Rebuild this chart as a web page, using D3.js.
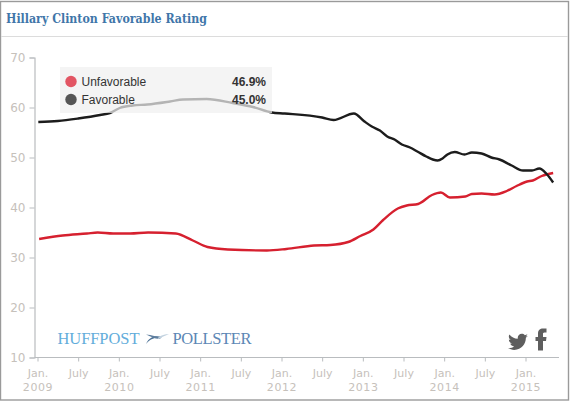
<!DOCTYPE html>
<html><head><meta charset="utf-8">
<script src="https://cdn.jsdelivr.net/npm/d3@7"></script>
<style>
html,body{margin:0;padding:0;background:#fff;overflow:hidden}
svg{display:block}
text{font-family:"DejaVu Sans",sans-serif}
</style></head><body><svg id="c" width="570" height="402"></svg>
<script>
const chartTitle = "Hillary Clinton Favorable Rating";
const favYears = [2009.01,2009.25,2009.5,2009.77,2009.89,2010.01,2010.17,2010.35,2010.63,2010.79,2011.08,2011.4,2011.65,2011.88,2012.04,2012.5,2012.64,2012.89,2013.02,2013.11,2013.21,2013.3,2013.39,2013.48,2013.58,2013.67,2013.78,2013.86,2013.92,2013.98,2014.04,2014.13,2014.25,2014.34,2014.46,2014.58,2014.68,2014.83,2014.97,2015.08,2015.17,2015.26,2015.34];
const favValues = [57.1,57.3,57.8,58.5,58.9,59.9,60.4,60.6,61.2,61.6,61.7,60.9,60.1,59.0,58.8,58.0,57.5,58.8,57.2,56.2,55.4,54.2,53.6,52.6,52.0,51.2,50.2,49.6,49.4,49.8,50.6,51.1,50.6,51.0,50.8,50.0,49.6,48.4,47.4,47.4,47.8,46.7,45.0];
const unfavYears = [2009.02,2009.31,2009.61,2009.74,2009.93,2010.14,2010.36,2010.7,2010.91,2011.09,2011.34,2011.82,2012.06,2012.4,2012.6,2012.82,2012.97,2013.13,2013.25,2013.43,2013.54,2013.68,2013.85,2013.96,2014.07,2014.26,2014.34,2014.46,2014.62,2014.77,2014.89,2015.02,2015.09,2015.2,2015.34];
const unfavValues = [33.7,34.4,34.8,35.0,34.8,34.8,35.0,34.8,33.4,32.1,31.6,31.4,31.7,32.4,32.5,33.1,34.3,35.6,37.5,39.8,40.4,40.7,42.5,43.0,42.0,42.2,42.7,42.8,42.6,43.3,44.3,45.2,45.4,46.3,46.9];
const legendNames = ["Unfavorable","Favorable"];
const legendValues = ["46.9%","45.0%"];
const legendColors = ["#e25563","#555555"];
const yTicks = [10,20,30,40,50,60,70];
const xTickYears = [2009,2009.5,2010,2010.5,2011,2011.5,2012,2012.5,2013,2013.5,2014,2014.5,2015];

const svg = d3.select("#c");
const x = d3.scaleLinear().domain([2009,2015]).range([37.5,525.5]);
const y = d3.scaleLinear().domain([10,70]).range([357.5,57.5]);
const axisCol = "#b9bcbf", labelCol = "#c6c1bb";

// frame
svg.append("rect").attr("x",0.5).attr("y",1.5).attr("width",568).attr("height",398.5)
  .attr("fill","#fff").attr("stroke","#9a9a9a").attr("stroke-width",1.4);
svg.append("line").attr("x1",1).attr("x2",568).attr("y1",36.5).attr("y2",36.5).attr("stroke","#dcdcdc");
svg.append("text").attr("x",6).attr("y",23).text(chartTitle)
  .style("font-family","'DejaVu Serif',serif").style("font-weight","bold").style("font-size","12.5px")
  .attr("fill","#3f76a9").attr("textLength",201).attr("lengthAdjust","spacingAndGlyphs");

// axes
const gy = svg.append("g").attr("transform","translate(34.5,0)")
  .call(d3.axisLeft(y).tickValues(yTicks).tickSize(5).tickPadding(4));
const gx = svg.append("g").attr("transform","translate(0,357.5)")
  .call(d3.axisBottom(x).tickValues(xTickYears).tickSize(4).tickFormat(()=>""));
gx.select(".domain").attr("d","M34.5,0H559");
[gy,gx].forEach(g=>{g.selectAll(".domain").attr("stroke",axisCol).attr("stroke-width",1.2);
  g.selectAll(".tick line").attr("stroke",axisCol);});
gy.selectAll("text").attr("fill",labelCol).style("font-size","12px").style("font-family","'DejaVu Sans',sans-serif");

gx.selectAll(".tick").each(function(d){
  const t = d3.select(this);
  t.select("text").remove();
  const isJan = Number.isInteger(d);
  t.append("text").attr("y",19.5).attr("text-anchor","middle").attr("fill",labelCol)
    .style("font-size","11px").text(isJan?"Jan.":"July");
  if(isJan) t.append("text").attr("y",33.5).attr("text-anchor","middle").attr("fill",labelCol)
    .style("font-size","11px").style("letter-spacing","0.6px").text(d);
});

// lines
const line = d3.line().x(d=>x(d[0])).y(d=>y(d[1])).curve(d3.curveMonotoneX);
svg.append("path").datum(d3.zip(unfavYears,unfavValues)).attr("d",line)
  .attr("fill","none").attr("stroke","#d6202f").attr("stroke-width",2.4).attr("stroke-linejoin","round");
svg.append("path").datum(d3.zip(favYears,favValues)).attr("d",line)
  .attr("fill","none").attr("stroke","#1c1c1c").attr("stroke-width",2.4).attr("stroke-linejoin","round");

// legend
svg.append("rect").attr("x",60).attr("y",67).attr("width",212).attr("height",46)
  .attr("fill","#f0f0f0").attr("fill-opacity",0.72);
legendNames.forEach((n,i)=>{
  const cy = 81.5 + i*18;
  svg.append("circle").attr("cx",71).attr("cy",cy).attr("r",5.7).attr("fill",legendColors[i]);
  svg.append("text").attr("x",81.5).attr("y",cy+4).text(n).attr("fill","#333")
    .style("font-family","'Liberation Sans',sans-serif").style("font-size","12px");
  svg.append("text").attr("x",266).attr("y",cy+4).attr("text-anchor","end").text(legendValues[i]).attr("fill","#333")
    .style("font-family","'Liberation Sans',sans-serif").style("font-size","12px").style("font-weight","bold");
});

// logo
svg.append("text").attr("x",57.5).attr("y",344).text("HUFFPOST").attr("fill","#63addb")
  .style("font-family","'Liberation Serif',serif").style("font-size","16.5px").attr("textLength",82);
svg.append("text").attr("x",172.5).attr("y",344).text("POLLSTER").attr("fill","#5c87b5")
  .style("font-family","'Liberation Serif',serif").style("font-size","16.5px").attr("textLength",79);
svg.append("path").attr("d","M146,344 C149,337 155,335 162,337 C155,337 150,339 146,344Z").attr("fill","#4a7095");
svg.append("path").attr("d","M146,334.5 C152,334.5 158,338 162,337.5 C158,340.5 154,338 146,334.5Z").attr("fill","#5f7f9f");
svg.append("path").attr("d","M158,338 C161,335 165,334 169,334 C165,335.5 163,337 158,339Z").attr("fill","#c3d3e0");

// social icons
svg.append("path").attr("fill","#5e5e5e")
  .attr("transform","translate(508,332) scale(0.83)")
  .attr("d","M24,4.6c-.9.4-1.8.7-2.8.8 1-.6 1.8-1.6 2.2-2.7-1 .6-2 1-3.1 1.2C19.3 2.8 18 2.2 16.6 2.2c-2.7 0-4.9 2.2-4.9 4.9 0 .4 0 .8.1 1.1C7.7 8 4.1 6 1.7 3 1.2 3.7 1 4.6 1 5.5c0 1.7.9 3.2 2.2 4.1-.8 0-1.6-.2-2.2-.6v.1c0 2.4 1.7 4.4 3.9 4.8-.4.1-.8.2-1.3.2-.3 0-.6 0-.9-.1.6 2 2.4 3.4 4.6 3.4-1.7 1.3-3.8 2.1-6.1 2.1-.4 0-.8 0-1.2-.1 2.2 1.4 4.8 2.2 7.5 2.2 9.1 0 14-7.5 14-14v-.6c1-.7 1.8-1.6 2.5-2.5z");
svg.append("path").attr("fill","#5e5e5e")
  .attr("d","M538,350.5V341H535.5V337H538V333.8C538,330 540,328.5 543,328.5H546.5V332.5H544.5C543.2,332.5 543,333.2 543,334.3V337H546.5L546,341H543V350.5Z");
</script></body></html>
